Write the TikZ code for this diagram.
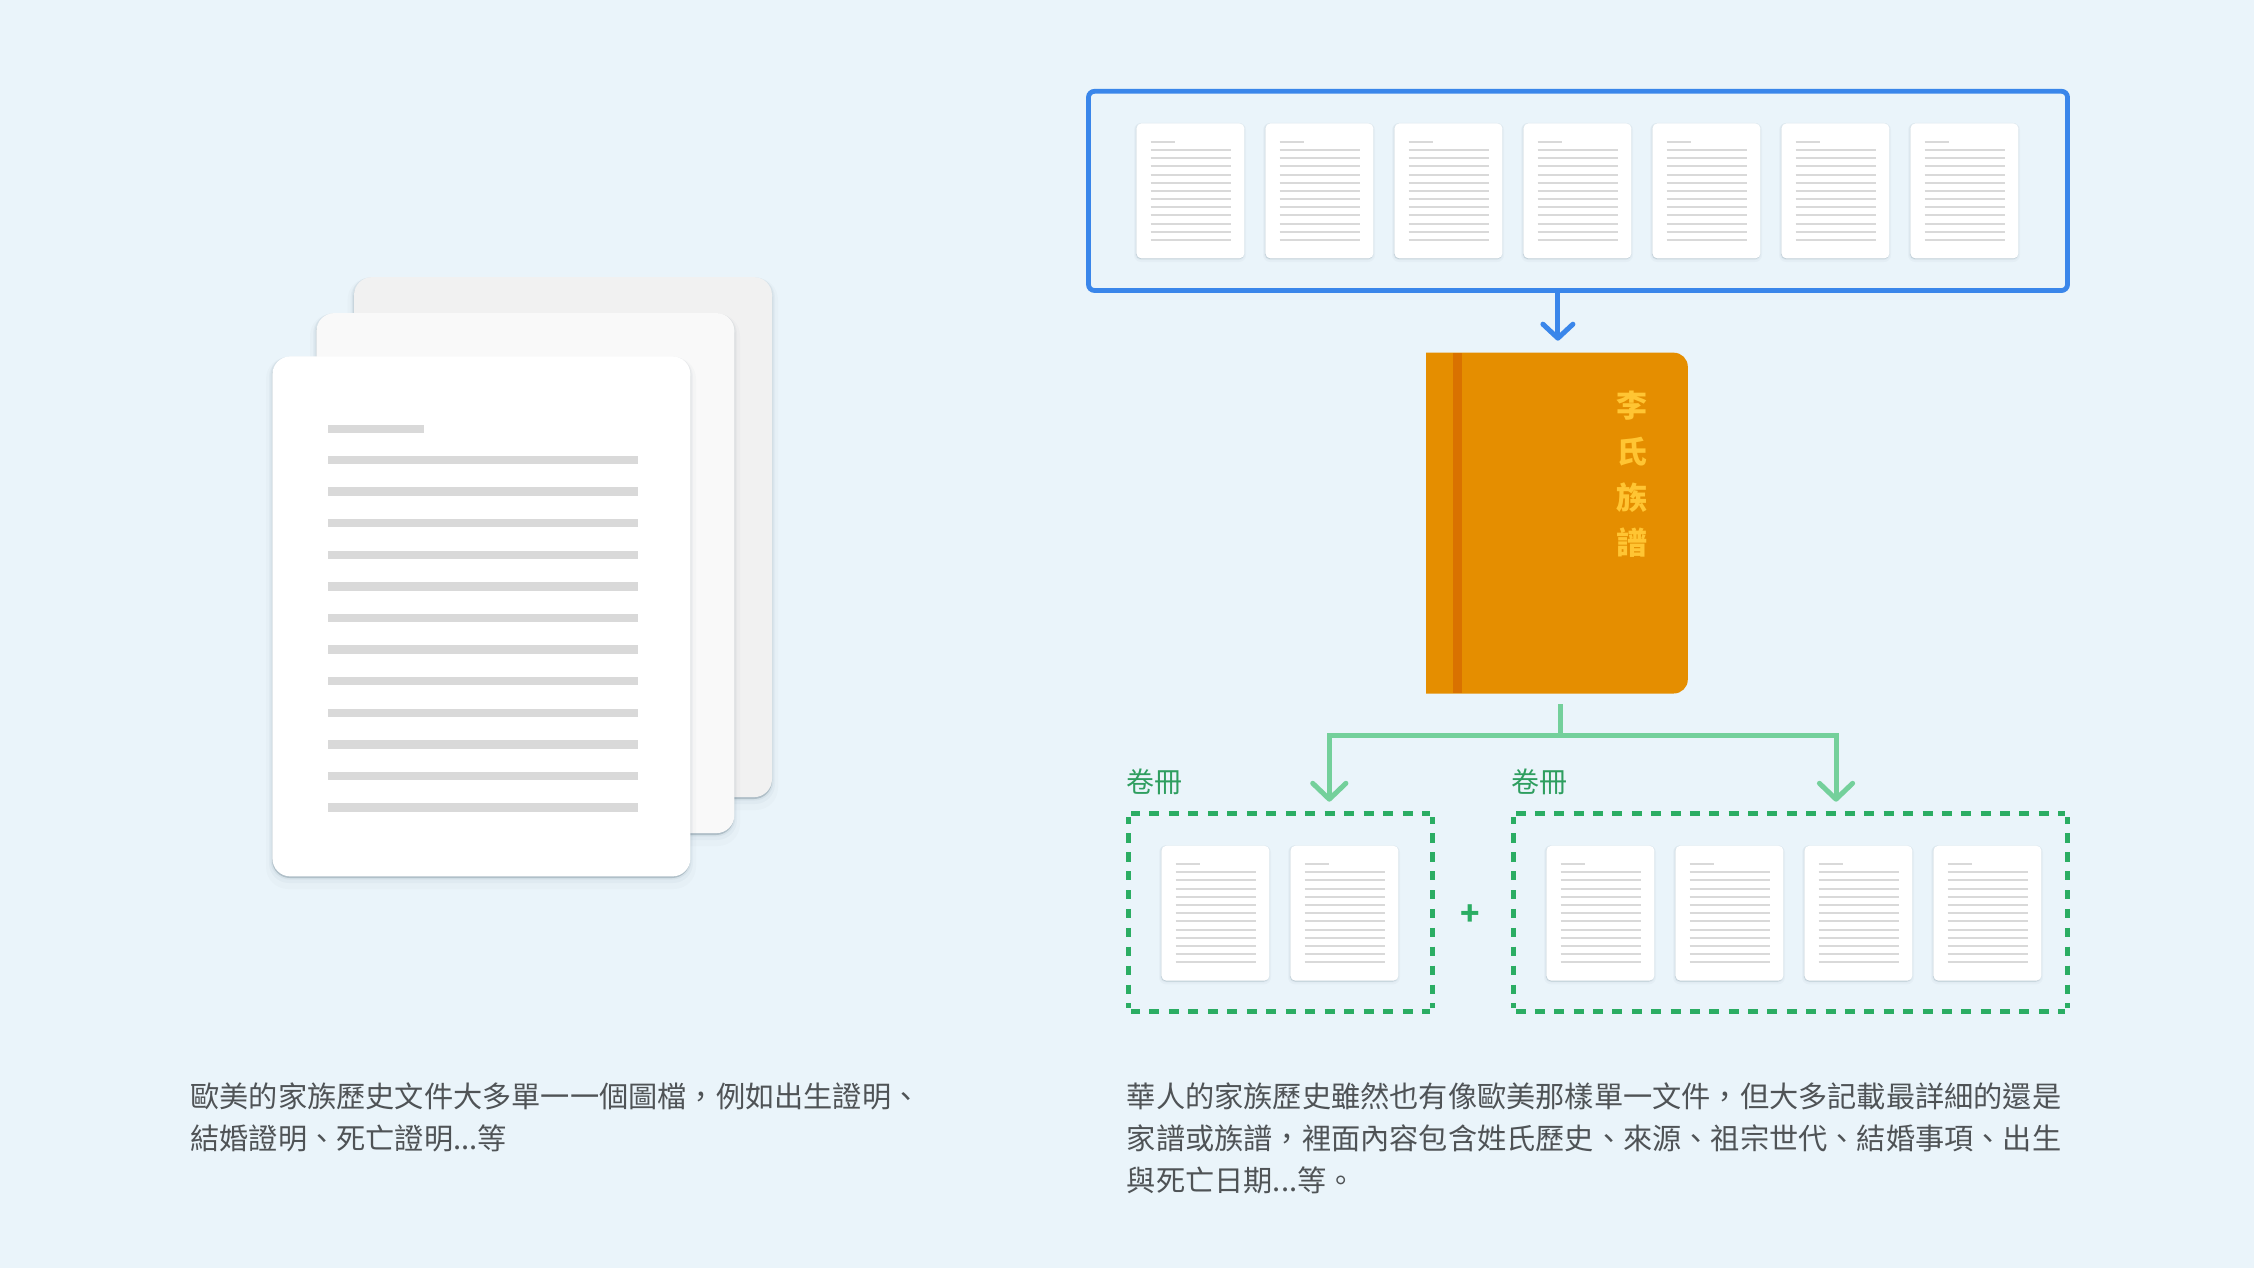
\documentclass[tikz,border=0pt]{standalone}
\usepackage{fontspec}
\setmainfont{Noto Sans CJK TC}
\usetikzlibrary{calc}
\definecolor{bgc}{HTML}{EAF4FA}
\definecolor{bluec}{HTML}{3A86EA}
\definecolor{dashc}{HTML}{2BAD63}
\definecolor{greenc}{HTML}{74D09B}
\definecolor{labelc}{HTML}{2E9E5F}
\definecolor{bookc}{HTML}{E58E00}
\definecolor{bandc}{HTML}{D97200}
\definecolor{titlec}{HTML}{FFC533}
\definecolor{rulec}{HTML}{D9D9D9}
\definecolor{textc}{HTML}{4F5356}
\definecolor{shadec}{HTML}{2C4A5C}
\tikzset{
  x=0.5pt,y=-0.5pt,
  smallpage/.style={anchor=north west,fill=white,rounded corners=2.5pt,inner sep=0pt,minimum width=54pt,minimum height=67.5pt},
  bigpage/.style={anchor=north west,rounded corners=9pt,inner sep=0pt,minimum width=209pt,minimum height=260pt},
  region/.style={anchor=north west,inner sep=0pt},
  smallrule/.style={draw=rulec,line width=1pt},
  bigrule/.style={fill=rulec},
  blueframe/.style={draw=bluec,line width=2.4pt,rounded corners=3pt},
  bluearrow/.style={draw=bluec,line width=2.5pt},
  bluehead/.style={draw=bluec,line width=2.5pt,line cap=round,line join=round},
  greenline/.style={draw=greenc,line width=2.5pt,line join=miter},
  greenhead/.style={draw=greenc,line width=2.5pt,line cap=round,line join=round},
  volborder/.style={draw=dashc,line width=2.4pt},
  caption/.style={anchor=north west,inner sep=0pt,align=left,text=textc,font=\fontsize{14.6pt}{21pt}\selectfont},
  vollabel/.style={anchor=west,inner sep=0pt,text=labelc,font=\fontsize{14pt}{14pt}\selectfont},
}
% soft shadow of a page
\newcommand{\softshade}[7]{% x0 y0 x1 y1 radius(pt) e dy ; opacity set by scope
  \fill[shadec,rounded corners=#5] (#1-#6,#2-#6+#7) rectangle (#3+#6,#4+#6+#7);}
\newcommand{\smalldoc}[3]{%
  \begin{scope}[opacity=.16]\softshade{#2}{#3}{#2+108}{#3+135}{2.5pt}{0}{1.2}\end{scope}
  \begin{scope}[opacity=.04]\softshade{#2}{#3}{#2+108}{#3+135}{3pt}{1}{1}\end{scope}
  \begin{scope}[opacity=.03]\softshade{#2}{#3}{#2+108}{#3+135}{3.5pt}{2}{2}\end{scope}
  \node[smallpage] (#1) at (#2,#3) {};
  \draw[smallrule] ($(#1.north west)+(14.5,18.7)$) -- +(24.5,0);
  \foreach \k in {0,...,11}{\draw[smallrule] ($(#1.north west)+(14.5,27+8.18*\k)$) -- +(80,0);}
}
\newcommand{\bigshades}[4]{%
  \begin{scope}[opacity=.22]\softshade{#1}{#2}{#3}{#4}{9pt}{0}{2}\end{scope}
  \begin{scope}[opacity=.05]\softshade{#1}{#2}{#3}{#4}{9.5pt}{1.5}{2}\end{scope}
  \begin{scope}[opacity=.035]\softshade{#1}{#2}{#3}{#4}{10pt}{3}{4}\end{scope}
  \begin{scope}[opacity=.02]\softshade{#1}{#2}{#3}{#4}{11pt}{6}{7}\end{scope}
}
% dashed volume border: x0 y0 x1 y1 pitch, start of first dash on top
\newcommand{\volsides}[6]{%
  \draw[volborder,dash pattern=on 5pt off {(#5-10)/2*1pt},dash phase=#6pt] (#1+2.8,#2) -- (#3-2.8,#2);
  \draw[volborder,dash pattern=on 5pt off {(#5-10)/2*1pt},dash phase=#6pt] (#1+2.8,#4) -- (#3-2.8,#4);
  \draw[volborder,dash pattern=on 4.65pt off 4.8pt,dash phase=1.3pt] (#1,#2+3.7) -- (#1,#4-3.7);
  \draw[volborder,dash pattern=on 4.65pt off 4.8pt,dash phase=1.3pt] (#3,#2+3.7) -- (#3,#4-3.7);
}
\begin{document}
\begin{tikzpicture}
\useasboundingbox (0,0) rectangle (2254,1268);
\fill[bgc] (0,0) rectangle (2254,1268);

% left stack of pages
\bigshades{353.6}{276.7}{772}{797}
\node[bigpage,fill=black!5.5] (backpage) at (353.6,276.7) {};
\bigshades{316}{312.7}{734}{833}
\node[bigpage,fill=black!2.2] (midpage) at (316,312.7) {};
\bigshades{272}{356}{690}{876}
\node[bigpage,fill=white] (frontpage) at (272,356) {};
\fill[bigrule] ($(frontpage.north west)+(56,68.6)$) rectangle +(95.6,8.4);
\foreach \k in {0,...,11}{\fill[bigrule] ($(frontpage.north west)+(56,99.8+31.6*\k)$) rectangle +(309.5,8.4);}

% blue frame and its seven pages
\node[region,minimum width=489.1pt,minimum height=99.2pt] (frame) at (1088.5,91.3) {};
\draw[blueframe] (frame.north west) rectangle (frame.south east);
\foreach \i in {0,...,6}{\smalldoc{top\i}{1136+129*\i}{123}}

% book
\node[region,minimum width=130.5pt,minimum height=170pt] (book) at (1426,352.7) {};
\fill[bookc] (book.north west) [rounded corners=7pt] -- (book.north east) -- (book.south east) [sharp corners] -- (book.south west) -- cycle;
\fill[bandc] (1453.3,352.7) rectangle (1462,692.7);
\node[inner sep=0pt,align=center,text=titlec,font=\fontsize{15.5pt}{22.85pt}\selectfont\bfseries] (booktitle) at (1632,474.5) {李\\氏\\族\\譜};

% blue connector
\coordinate (bluetip) at ($(book.north |- 0,338.2)+(1,0)$);
\draw[bluearrow] (frame.south -| bluetip) -- (bluetip);
\draw[bluehead] ($(bluetip)+(-15,-14)$) -- (bluetip) -- +(15,-14);

% volumes
\node[region,minimum width=152pt,minimum height=99.2pt] (volA) at (1128.3,813.3) {};
\volsides{1128.3}{813.3}{1432.3}{1011.7}{19.47}{.55}
\node[region,minimum width=277pt,minimum height=99.2pt] (volB) at (1513.3,813.3) {};
\volsides{1513.3}{813.3}{2067.3}{1011.7}{19.38}{.3}
\foreach \i in {0,1}{\smalldoc{a\i}{1161+129*\i}{845.3}}
\foreach \i in {0,...,3}{\smalldoc{b\i}{1546+129*\i}{845.3}}
\node[inner sep=0pt,text=dashc,font=\fontsize{16pt}{16pt}\selectfont\bfseries] (plus) at (1470.7,915) {+};
\node[vollabel] (labA) at (1126.5,781.7) {卷冊};
\node[vollabel] (labB) at (1511,781.7) {卷冊};

% green connector
\coordinate (stemtop) at (1560.7,704);
\coordinate (junction) at (1560.7,735);
\coordinate (tipA) at (1329.3,799.2);
\coordinate (tipB) at (1836,799.2);
\draw[greenline] (tipA) |- (junction) -| (tipB);
\draw[greenline] (stemtop) -- (junction);
\draw[greenhead] ($(tipA)+(-16.6,-15.9)$) -- (tipA) -- +(16.6,-15.9);
\draw[greenhead] ($(tipB)+(-16.6,-15.9)$) -- (tipB) -- +(16.6,-15.9);

% captions
\node[caption] (captionL) at (190,1082) {歐美的家族歷史文件大多單一一個圖檔^^^^ff0c例如出生證明、\\結婚證明、死亡證明...等};
\node[caption] (captionR) at (1126.5,1082) {華人的家族歷史雖然也有像歐美那樣單一文件^^^^ff0c但大多記載最詳細的還是\\家譜或族譜^^^^ff0c裡面內容包含姓氏歷史、來源、祖宗世代、結婚事項、出生\\與死亡日期...等。};
\end{tikzpicture}
\end{document}
